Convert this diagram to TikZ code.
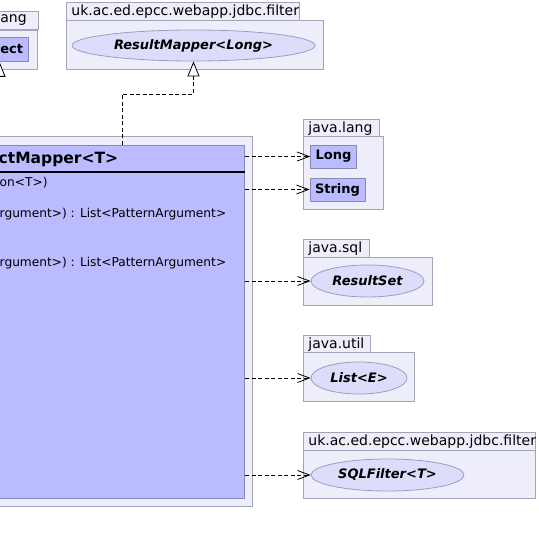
\documentclass[tikz,border=0pt]{standalone}
\usepackage{fontspec}
\setmainfont{DejaVu Sans}
\usetikzlibrary{arrows.meta,shapes.geometric}
\definecolor{pkgfill}{HTML}{EEEEFB}
\definecolor{pkgline}{HTML}{A4A4B8}
\definecolor{clsfill}{HTML}{BBBBFF}
\definecolor{clsline}{HTML}{8888B0}
\definecolor{iffill}{HTML}{DDDDFB}
\definecolor{ifline}{HTML}{9C9CC0}
\newcommand{\pkgsize}{\fontsize{14}{16}\selectfont}
\newcommand{\clssize}{\fontsize{13}{15}\selectfont}
\newcommand{\titlesize}{\fontsize{15.5}{18}\selectfont}
\newcommand{\membersize}{\fontsize{12.2}{14}\selectfont}
\newcommand{\deparw}{-{Straight Barb[length=12pt,width=9pt]}}
\newcommand{\realarw}{-{Triangle[open,length=15pt,width=12pt,fill=white]}}
\tikzset{
  pkgtab/.style={draw=pkgline, fill=pkgfill, line width=0.8pt, anchor=north west,
    minimum height=18pt, inner xsep=5pt, inner ysep=0pt, align=left, font=\pkgsize},
  pkgbody/.style={draw=pkgline, fill=pkgfill, line width=0.8pt, anchor=north west, inner sep=0pt},
  clsbox/.style={draw=clsline, fill=clsfill, line width=0.8pt, inner xsep=5pt, inner ysep=0pt,
    font=\bfseries\clssize},
  iface/.style={ellipse, draw=ifline, fill=iffill, line width=0.8pt, inner sep=0pt,
    font=\bfseries\itshape\clssize},
  member/.style={anchor=base west, inner sep=0pt, font=\membersize},
  dep/.style={line width=0.8pt, dash pattern=on 4pt off 2.5pt, \deparw},
  realize/.style={line width=0.8pt, dash pattern=on 4pt off 2.5pt, \realarw},
  extends/.style={line width=0.8pt, \realarw}
}
\begin{document}
\begin{tikzpicture}[x=1pt,y=-1pt]
\useasboundingbox (0,0) rectangle (538,545);
\clip (0,0) rectangle (538,545);
%java.lang, cut off at the left
\node[pkgtab, text width=33pt] (langtabl) at (-5,11) {ang};
\node[pkgbody, anchor=north east, minimum width=60pt, minimum height=39pt] (langl) at (38,30) {};
\node[clsbox, anchor=north west, text width=23pt, align=left, minimum height=24pt] (object) at (-5,37) {ect};
%uk.ac.ed.epcc.webapp.jdbc.filter, top
\node[pkgtab, text width=223pt] (filtertabt) at (66,2) {uk.ac.ed.epcc.webapp.jdbc.filter};
\node[pkgbody, minimum width=257pt, minimum height=49pt] (filtert) at (66,20) {};
\node[iface, minimum width=243pt, minimum height=31pt] (resultmapper) at (193.5,45.5) {ResultMapper<Long>};
%the mapper class
\node[pkgbody, anchor=north east, minimum width=400pt, minimum height=370pt] (mapperpkg) at (253,136) {};
\node[clsbox, anchor=north east, minimum width=390pt, minimum height=353pt] (mapper) at (245,145) {};
\coordinate (titlerule) at (0,172);
\draw[line width=1.8pt] (mapper.west |- titlerule) -- (mapper.east |- titlerule);
\node[anchor=base west, inner sep=0pt, font=\bfseries\titlesize] (mappername) at (-1.5,164) {ctMapper<T>};
\node[member] (ctor) at (-0.5,187) {on<T>)};
\node[member] (maparg) at (-0.5,217.5) {rgument>) : List<PatternArgument>};
\node[member] (maparg2) at (-0.5,266) {rgument>) : List<PatternArgument>};
%java.lang
\node[pkgtab, text width=66pt] (langtab) at (303,119) {java.lang};
\node[pkgbody, minimum width=80pt, minimum height=73pt] (lang) at (303,136) {};
\node[clsbox, minimum width=45pt, minimum height=23pt] (long) at (333.5,156.5) {Long};
\node[clsbox, minimum width=53pt, minimum height=23pt] (string) at (337.5,189.5) {String};
%java.sql
\node[pkgtab, text width=56pt] (sqltab) at (303,239) {java.sql};
\node[pkgbody, minimum width=129pt, minimum height=48pt] (sql) at (303,257) {};
\node[iface, minimum width=113pt, minimum height=32pt] (resultset) at (367.5,281) {ResultSet};
%java.util
\node[pkgtab, text width=57pt] (utiltab) at (303,335) {java.util};
\node[pkgbody, minimum width=111pt, minimum height=49pt] (util) at (303,352) {};
\node[iface, minimum width=96pt, minimum height=32pt] (list) at (359,378) {List<E>};
%uk.ac.ed.epcc.webapp.jdbc.filter, bottom
\node[pkgtab, text width=222pt] (filtertabb) at (303,432) {uk.ac.ed.epcc.webapp.jdbc.filter};
\node[pkgbody, minimum width=232pt, minimum height=48pt] (filterb) at (303,450) {};
\node[iface, minimum width=153pt, minimum height=32pt] (sqlfilter) at (387.5,475) {SQLFilter<T>};
%connectors
\coordinate (rbend) at (122,94);
\draw[realize] (rbend |- mapper.north) -- (rbend) -| (resultmapper);
\coordinate (objline) at (-0.5,145);
\draw[extends] (objline) -- (objline |- object.south);
\draw[dep] (long -| mapper.east) -- (long);
\draw[dep] (string -| mapper.east) -- (string);
\draw[dep] (resultset -| mapper.east) -- (resultset);
\draw[dep] (list -| mapper.east) -- (list);
\draw[dep] (sqlfilter -| mapper.east) -- (sqlfilter);
\end{tikzpicture}
\end{document}
